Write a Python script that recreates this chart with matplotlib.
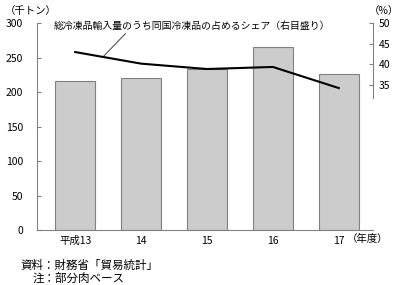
import matplotlib
matplotlib.use("Agg")
import matplotlib.pyplot as plt
import numpy as np

plt.rcParams['font.family'] = ['Noto Sans CJK JP', 'DejaVu Sans']

years = ['平成13', '14', '15', '16', '17']
imports = [216, 221, 233, 265, 226]      # 千トン (left)
share = [43.0, 40.2, 38.9, 39.4, 34.3]   # % (right)

fig = plt.figure(figsize=(4, 2.85), dpi=100)
ax = fig.add_axes([0.0925, 0.193, 0.84, 0.726])
x = np.arange(len(years))

ax.bar(x, imports, width=0.6, color='#cccccc', edgecolor='#808080', linewidth=0.8, zorder=2)
ax.set_xlim(-0.58, 4.52)
ax.set_ylim(0, 300)
ax.set_yticks(np.arange(0, 301, 50))
ax.set_xticks(x)
ax.set_xticklabels(years, fontsize=7.5)
ax.tick_params(axis='x', length=0, pad=4)
ax.tick_params(axis='y', direction='in', length=3, labelsize=7.5, pad=10, color='#808080')
for s in ['top', 'right']:
    ax.spines[s].set_visible(False)
ax.spines['left'].set_color('#808080')
ax.spines['bottom'].set_color('#808080')

ax2 = ax.twinx()
ax2.plot(x, share, color='black', linewidth=1.5, zorder=3)
ax2.set_ylim(0, 50)
ax2.set_yticks([35, 40, 45, 50])
ax2.spines['right'].set_bounds(32, 50)
ax2.spines['right'].set_color('#808080')
for s in ['top', 'left', 'bottom']:
    ax2.spines[s].set_visible(False)
ax2.tick_params(axis='y', direction='in', length=3, labelsize=7.5, pad=4, color='#808080')

fig.text(0.012, 0.96, '（千トン）', fontsize=7.5, va='center')
fig.text(0.922, 0.96, '（%）', fontsize=7.5, va='center')
fig.text(0.868, 0.16, '（年度）', fontsize=7.5, va='center')

# leader from the label down to the share line
ax.annotate('総冷凍品輸入量のうち同国冷凍品の占めるシェア（右目盛り）',
            xy=(0.42, 41.8 * 6), xytext=(-0.33, 296),
            fontsize=7.1, va='center', ha='left',
            arrowprops=dict(arrowstyle='-', color='#404040', lw=0.7,
                            shrinkA=0, shrinkB=0, relpos=(0.27, 0)))

fig.text(0.052, 0.07, '資料：財務省「貿易統計」', fontsize=8.3, va='center')
fig.text(0.082, 0.025, '注：部分肉ベース', fontsize=8.3, va='center')

fig.savefig('out.png', dpi=100)
